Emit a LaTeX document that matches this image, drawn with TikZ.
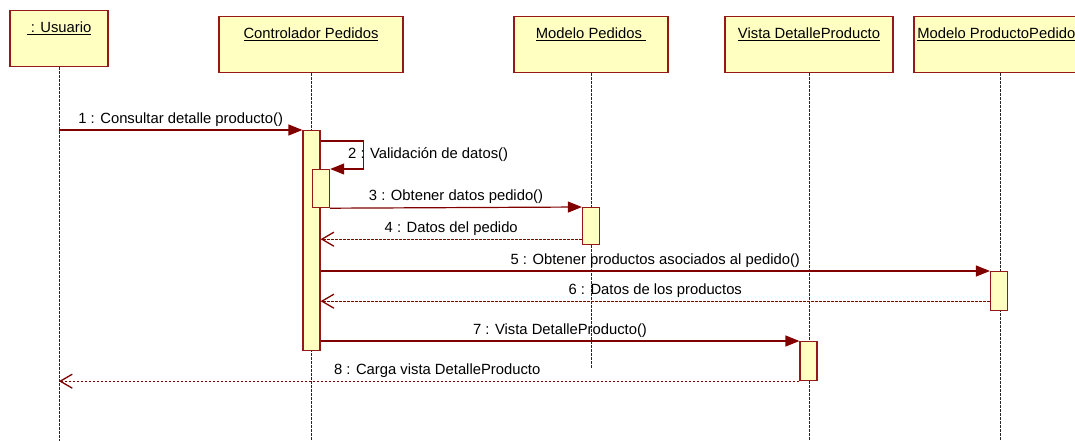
\documentclass[tikz,border=0pt]{standalone}
\usepackage{fontspec}
\setmainfont{Liberation Sans}
\usetikzlibrary{arrows.meta,positioning,calc}
\definecolor{umlred}{RGB}{150,25,25}
\definecolor{umlyellow}{RGB}{255,255,194}
\definecolor{msgred}{RGB}{128,0,0}

\begin{document}
\begin{tikzpicture}[
    x=1pt, y=-1pt,
    every node/.style={font=\fontsize{14.8}{17}\selectfont},
    head/.style={rectangle, draw=umlred, fill=umlyellow, line width=1.3pt, anchor=north, minimum width=#1, text height=18pt, text depth=30pt, inner ysep=4pt, inner xsep=2pt},
    act/.style={rectangle, draw=umlred, fill=umlyellow, line width=1.2pt, anchor=north, minimum width=17pt, minimum height=#1, inner sep=0pt},
    lifeline/.style={draw=black!85, line width=1pt, dash pattern=on 2.5pt off 1.5pt},
    call/.style={draw=msgred, line width=1.2pt, -{Triangle[length=14pt,width=11pt]}},
    reply/.style={draw=msgred, line width=1.3pt, dash pattern=on 2.5pt off 1.5pt, -{Straight Barb[length=12pt,width=14pt]}},
    msg/.style={above, inner sep=3pt}
]
\useasboundingbox (0,0) rectangle (1075,441);

% Objects
\node[head=98pt] (usuario) at (59,10) {\underline{\ : Usuario}};
\node[head=184pt] (ctrl) at (311,16) {\underline{Controlador Pedidos}};
\node[head=154pt] (modped) at (591,16) {\underline{Modelo Pedidos\ }};
\node[head=168pt] (vista) at (809,16) {\underline{Vista DetalleProducto}};
\node[head=172pt] (modprod) at (1000,16) {\underline{Modelo ProductoPedidos}};

% Lifelines
\coordinate (bottom) at (0,441);
\coordinate (pedend) at (0,368);
\draw[lifeline] (usuario.south) -- (usuario.south |- bottom);
\draw[lifeline] (ctrl.south) -- (ctrl.south |- bottom);
\draw[lifeline] (modped.south) -- (modped.south |- pedend);
\draw[lifeline] (vista.south) -- (vista.south |- bottom);
\draw[lifeline] (modprod.south) -- (modprod.south |- bottom);

% Activations
\node[act=220pt] (actCtrl) at (311.5,130) {};
\node[act=38pt, anchor=north west] (actVal) at (312,169) {};
\node[act=37pt] (actPed) at (591,207) {};
\node[act=39pt] (actProd) at (999,271) {};
\node[act=39pt] (actVista) at (808.5,341) {};

% Messages
\draw[call] (usuario.south |- actCtrl.north) -- node[msg] {1 : Consultar detalle producto()} (actCtrl.north west);
\draw[call] ([yshift=-11pt]actCtrl.north east) -- ++(43,0) |- node[msg, pos=0.25, anchor=west, xshift=-19pt] {2 : Validación de datos()} (actVal.north east);
\draw[call] (actVal.south east) -- node[msg] {3 : Obtener datos pedido()} (actPed.north west);
\coordinate (r4) at ([yshift=6pt]actPed.south west);
\draw[reply] (r4) -- node[msg] {4 : Datos del pedido} (r4 -| actCtrl.east);
\draw[call] (actCtrl.east |- actProd.north) -- node[msg] {5 : Obtener productos asociados al pedido()} (actProd.north west);
\coordinate (r6) at ([yshift=10pt]actProd.south west);
\draw[reply] (r6) -- node[msg] {6 : Datos de los productos} (r6 -| actCtrl.east);
\draw[call] (actCtrl.east |- actVista.north) -- node[msg] {7 : Vista DetalleProducto()} (actVista.north west);
\draw[reply] (actVista.south west) -- node[msg, xshift=8pt] {8 : Carga vista DetalleProducto} (actVista.south west -| usuario.south);

\end{tikzpicture}
\end{document}
